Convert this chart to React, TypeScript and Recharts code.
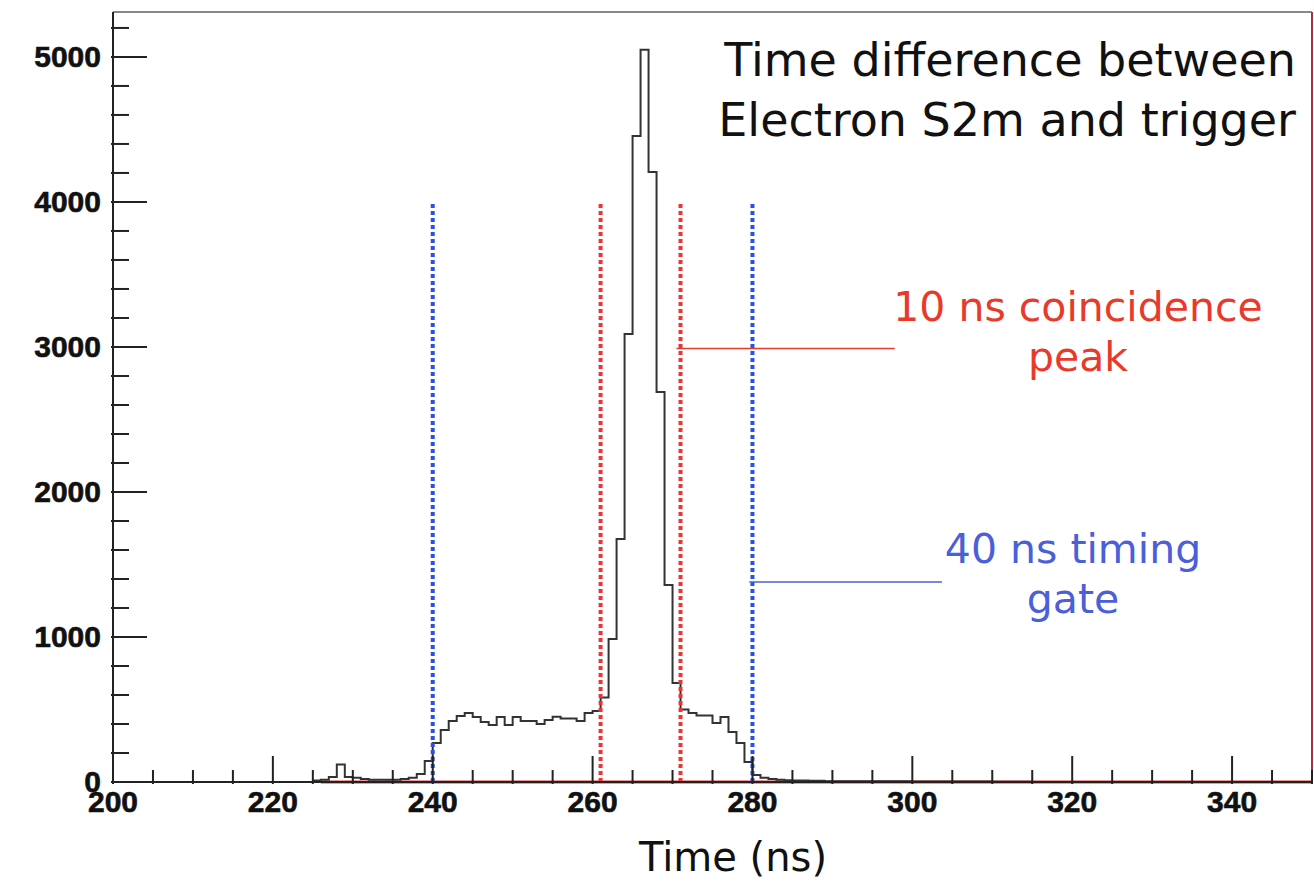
import React from "react"
import { LineChart, Line, XAxis, YAxis, ReferenceLine } from "recharts"

// 1 ns bins, left edge in ns
const binStart = [
  225, 226, 227, 228, 229, 230, 231, 232, 233, 234, 235, 236, 237, 238, 239,
  240, 241, 242, 243, 244, 245, 246, 247, 248, 249, 250, 251, 252, 253, 254,
  255, 256, 257, 258, 259, 260, 261, 262, 263, 264, 265, 266, 267, 268, 269,
  270, 271, 272, 273, 274, 275, 276, 277, 278, 279, 280, 281, 282, 283, 284,
  285, 286, 287, 288, 289, 290, 292, 295, 300, 305, 310, 315,
]
const counts = [
  10, 15, 35, 120, 35, 30, 20, 15, 15, 15, 15, 20, 30, 55, 145,
  269, 359, 420, 455, 476, 448, 414, 393, 448, 393, 448, 420, 420, 400, 427,
  450, 438, 438, 420, 476, 490, 583, 986, 1676, 3090, 4455, 5050, 4207, 2690, 1359,
  683, 500, 475, 458, 458, 407, 448, 345, 269, 138, 48, 30, 20, 15, 12,
  10, 10, 8, 8, 6, 6, 5, 5, 4, 3, 2, 0,
]
const data = binStart.map((t, i) => ({ t, n: counts[i] }))

const xMajor = [200, 220, 240, 260, 280, 300, 320, 340]
const xTicks = Array.from({ length: 31 }, (_, i) => 200 + i * 5)
const yMajor = [0, 1000, 2000, 3000, 4000, 5000]
const yTicks = Array.from({ length: 27 }, (_, i) => i * 200)

const blueLines = [240, 280]
const redLines = [261, 271]

const tickFont = "'Liberation Sans', Arial, sans-serif"
const noteFont = "'DejaVu Sans', sans-serif"

const XTick = (props: any) => {
  const { x, y, payload } = props
  const major = xMajor.includes(payload.value)
  return (
    <g>
      <line x1={x} x2={x} y1={y} y2={y - (major ? 28 : 14)} stroke="#222" strokeWidth={2} />
      {major && (
        <text x={x} y={y + 28} textAnchor="middle" fontFamily={tickFont} fontWeight="bold" fontSize={30} fill="#111" stroke="#111" strokeWidth={0.6}>
          {payload.value}
        </text>
      )}
    </g>
  )
}

const YTick = (props: any) => {
  const { x, y, payload } = props
  const major = yMajor.includes(payload.value)
  return (
    <g>
      <line x1={x} x2={x + (major ? 36 : 18)} y1={y} y2={y} stroke="#222" strokeWidth={2} />
      {major && (
        <text x={x - 10} y={y + 10} textAnchor="end" fontFamily={tickFont} fontWeight="bold" fontSize={30} fill="#111" stroke="#111" strokeWidth={0.6}>
          {payload.value}
        </text>
      )}
    </g>
  )
}

export default function App() {
  return (
    <div style={{ position: "absolute", left: 0, top: 0, width: 1314, height: 882, background: "#fff" }}>
      <LineChart width={1314} height={882} data={data} margin={{ top: 12, right: 2, left: 8, bottom: 70 }}>
        <XAxis
          dataKey="t"
          type="number"
          domain={[200, 350]}
          ticks={xTicks}
          tick={<XTick />}
          tickLine={false}
          tickSize={0}
          interval={0}
          axisLine={{ stroke: "#222", strokeWidth: 2 }}
          allowDataOverflow
        />
        <YAxis
          type="number"
          domain={[0, 5310]}
          ticks={yTicks}
          tick={<YTick />}
          tickLine={false}
          tickSize={0}
          interval={0}
          width={105}
          axisLine={{ stroke: "#222", strokeWidth: 2 }}
          allowDataOverflow
        />
        <ReferenceLine segment={[{ x: 200, y: 5310 }, { x: 350, y: 5310 }]} stroke="#888" strokeWidth={2} />
        <ReferenceLine segment={[{ x: 350, y: 0 }, { x: 350, y: 5310 }]} stroke="#b0303a" strokeWidth={2} />
        <ReferenceLine segment={[{ x: 226, y: 0 }, { x: 350, y: 0 }]} stroke="#e03030" strokeWidth={3} />
        <Line
          type="stepAfter"
          dataKey="n"
          stroke="#333"
          strokeWidth={2}
          dot={false}
          isAnimationActive={false}
        />
        {blueLines.map((v) => (
          <ReferenceLine key={"b" + v} segment={[{ x: v, y: 0 }, { x: v, y: 4000 }]} stroke="#2b50e8" strokeWidth={4} strokeDasharray="4 3" />
        ))}
        {redLines.map((v) => (
          <ReferenceLine key={"r" + v} segment={[{ x: v, y: 0 }, { x: v, y: 4000 }]} stroke="#ee3333" strokeWidth={4} strokeDasharray="4 3" />
        ))}
        <ReferenceLine segment={[{ x: 270.5, y: 2990 }, { x: 297.8, y: 2990 }]} stroke="#e83a2a" strokeWidth={1.5} />
        <ReferenceLine segment={[{ x: 279.6, y: 1380 }, { x: 303.7, y: 1380 }]} stroke="#4a5fd8" strokeWidth={1.5} />
      </LineChart>
      <div style={{ position: "absolute", right: 18, top: 30, textAlign: "right", fontFamily: noteFont, fontSize: 46, lineHeight: "60px", color: "#111" }}>
        Time difference between
        <br />
        Electron S2m and trigger
      </div>
      <div style={{ position: "absolute", left: 850, width: 456, top: 282, textAlign: "center", fontFamily: noteFont, fontSize: 41, lineHeight: "50px", color: "#e83a2a" }}>
        10 ns coincidence
        <br />
        peak
      </div>
      <div style={{ position: "absolute", left: 900, width: 346, top: 524, textAlign: "center", fontFamily: noteFont, fontSize: 41, lineHeight: "50px", color: "#4a5fd8" }}>
        40 ns timing
        <br />
        gate
      </div>
      <div style={{ position: "absolute", left: 533, width: 400, top: 834, textAlign: "center", fontFamily: noteFont, fontSize: 40, color: "#111" }}>
        Time (ns)
      </div>
    </div>
  )
}
